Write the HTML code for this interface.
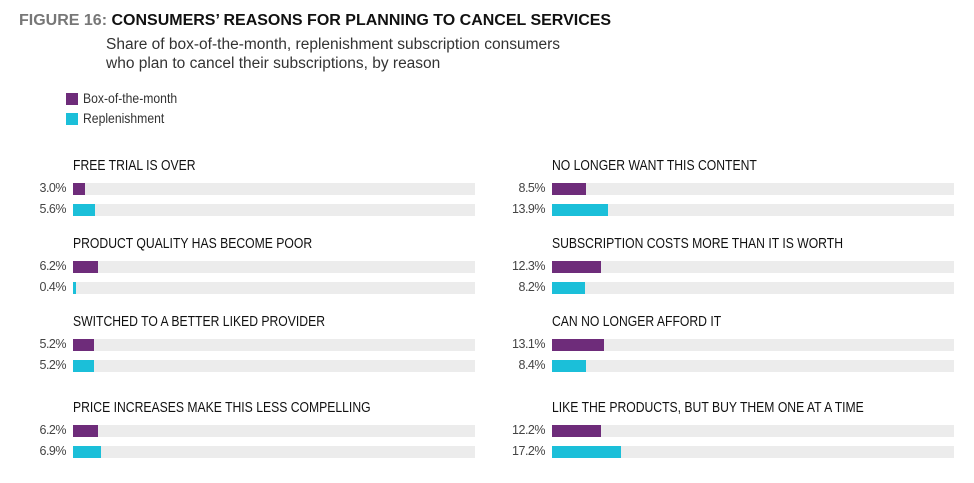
<!DOCTYPE html>
<html><head><style>
body{margin:0;width:974px;height:483px;background:#fff;font-family:"Liberation Sans",sans-serif;position:relative;overflow:hidden}
.a{position:absolute;white-space:nowrap}
.t{font-size:16px;font-weight:bold;top:12px;left:19px;color:#111}
.t span{color:#777}
.s{font-size:15.5px;color:#333;left:106px;line-height:19px;top:35px}
.lg{font-size:14px;color:#333;transform:scaleX(.87);transform-origin:left}
.sq{position:absolute;width:12px;height:12px}
.h{font-size:14.5px;color:#111;transform:scaleX(.84);transform-origin:left}
.v{font-size:12.5px;color:#444;text-align:right;width:50px;letter-spacing:-.5px}
.bg{position:absolute;height:12px;background:#ececec;width:402px}
.b{position:absolute;left:0;top:0;height:12px}
.p{background:#6e2c7a}.c{background:#1bbfd9}
</style></head><body>
<div class="a t"><span>FIGURE 16:</span> CONSUMERS’ REASONS FOR PLANNING TO CANCEL SERVICES</div>
<div class="a s">Share of box-of-the-month, replenishment subscription consumers<br>who plan to cancel their subscriptions, by reason</div>
<div class="sq p" style="left:66px;top:93px"></div><div class="a lg" style="left:83px;top:90px">Box-of-the-month</div>
<div class="sq c" style="left:66px;top:113px"></div><div class="a lg" style="left:83px;top:110px">Replenishment</div>
<div id="g"></div>
<script>
var d=[[73,158,"FREE TRIAL IS OVER",3.0,5.6],[73,236,"PRODUCT QUALITY HAS BECOME POOR",6.2,0.4],[73,314,"SWITCHED TO A BETTER LIKED PROVIDER",5.2,5.2],[73,400,"PRICE INCREASES MAKE THIS LESS COMPELLING",6.2,6.9],
[552,158,"NO LONGER WANT THIS CONTENT",8.5,13.9],[552,236,"SUBSCRIPTION COSTS MORE THAN IT IS WORTH",12.3,8.2],[552,314,"CAN NO LONGER AFFORD IT",13.1,8.4],[552,400,"LIKE THE PRODUCTS, BUT BUY THEM ONE AT A TIME",12.2,17.2]];
var h="";d.forEach(function(r){var x=r[0],y=r[1];
h+='<div class="a h" style="left:'+x+'px;top:'+y+'px">'+r[2]+'</div>';
[[r[3],'p',25],[r[4],'c',46]].forEach(function(q){var yy=y+q[2];
h+='<div class="a v" style="left:'+(x-57)+'px;top:'+(yy-2)+'px">'+q[0].toFixed(1)+'%</div>';
h+='<div class="bg" style="left:'+x+'px;top:'+yy+'px"><div class="b '+q[1]+'" style="width:'+Math.max(3,q[0]*4)+'px"></div></div>';});});
document.getElementById('g').innerHTML=h;
</script>
</body></html>
